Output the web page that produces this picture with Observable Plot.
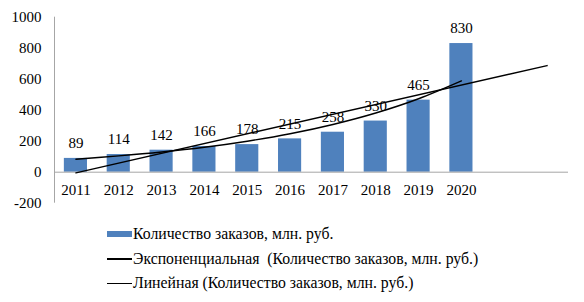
<!DOCTYPE html>
<html>
<head>
<meta charset="utf-8">
<script src="https://cdn.jsdelivr.net/npm/d3@7"></script>
<script src="https://cdn.jsdelivr.net/npm/@observablehq/plot@0.6"></script>
<style>
  html, body { margin: 0; padding: 0; background: #fff; }
  body { width: 584px; height: 302px; overflow: hidden; font-family: 'Liberation Serif'; }
  svg text { font-family: 'Liberation Serif' !important; }
</style>
</head>
<body>
<div id="chart"></div>
<div id="legend" style="padding-left:107px;margin-top:12px;font-size:15.75px;color:#000;font-family:'Liberation Serif';"></div>
<script>
const years = [2011, 2012, 2013, 2014, 2015, 2016, 2017, 2018, 2019, 2020];
const orders = [89, 114, 142, 166, 178, 215, 258, 330, 465, 830];
// exponential trend (one value per year)
const expTrend = [84, 105, 130, 161, 200, 248, 308, 382, 474, 589];
// linear trend: start (2011) and forecast end (two periods after 2020)
const linYears = [2011, 2022];
const linTrend = [-4, 688];
const yTicks = [-200, 0, 200, 400, 600, 800, 1000];
const legendLabels = [
  "Количество заказов, млн. руб.",
  "Экспоненциальная\u00a0 (Количество заказов, млн. руб.)",
  "Линейная (Количество заказов, млн. руб.)"
];

const idx = y => y - 2010;
const bars = years.map((y, i) => ({x: idx(y), v: orders[i]}));
const expData = years.map((y, i) => ({x: idx(y), v: expTrend[i]}));
const linData = linYears.map((y, i) => ({x: idx(y), v: linTrend[i]}));
const half = 0.27;

const font = "Liberation Serif";
const chart = Plot.plot({
  width: 584,
  height: 210,
  marginLeft: 54,
  marginRight: 16,
  marginTop: 16.7,
  marginBottom: 7.3,
  style: {fontFamily: font, fontSize: "15px", color: "#000", background: "#fff"},
  x: {domain: [0.5, 12.5], axis: null},
  y: {domain: [-200, 1000], ticks: yTicks, tickSize: 0, tickPadding: 13, label: null, tickFormat: d => String(d), fontSize: 15},
  marks: [
    Plot.ruleX([0.5], {y1: -200, y2: 1000, stroke: "#a6a6a6", strokeWidth: 1}),
    Plot.rectY(bars, {x1: d => d.x - half, x2: d => d.x + half, y1: 0, y2: "v", fill: "#4f81bd"}),
    Plot.ruleY([0], {x1: 0.5, x2: 12.5, stroke: "#a6a6a6", strokeWidth: 1}),
    Plot.line(expData, {x: "x", y: "v", stroke: "#000", strokeWidth: 1.4, curve: "catmull-rom"}),
    Plot.line(linData, {x: "x", y: "v", stroke: "#000", strokeWidth: 1.4}),
    Plot.text(bars, {x: "x", y: "v", text: d => String(d.v), dy: -15, fill: "#000", fontSize: 15, fontFamily: font}),
    Plot.text(years, {x: d => idx(d), y: 0, text: d => String(d), dy: 18, fill: "#000", fontSize: 15, fontFamily: font})
  ]
});
document.getElementById("chart").appendChild(chart);

const legend = document.getElementById("legend");
legendLabels.forEach((t, i) => {
  const row = document.createElement("div");
  row.style.cssText = "display:flex;align-items:center;height:24.5px;font-family:'Liberation Serif';";
  const sw = document.createElement("div");
  sw.style.cssText = "width:25px;margin-right:1px;background:" + (i === 0 ? "#4f81bd;height:6px" : "#000;height:1.5px");
  const tx = document.createElement("span");
  tx.textContent = t;
  row.appendChild(sw);
  row.appendChild(tx);
  legend.appendChild(row);
});
</script>
</body>
</html>
